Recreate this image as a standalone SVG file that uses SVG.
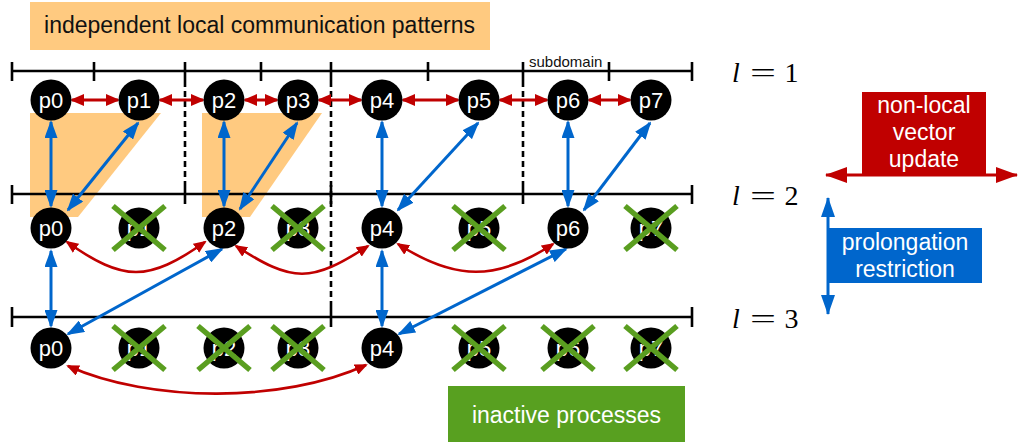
<svg xmlns="http://www.w3.org/2000/svg" width="1020" height="445" viewBox="0 0 1020 445">
<defs>
<style>
.lvl{stroke:#000;stroke-width:2.6;fill:none}
.dash{stroke:#000;stroke-width:2.6;stroke-dasharray:6 4;fill:none}
.nc{fill:#000}
.nt{font-family:"Liberation Sans",Arial,sans-serif;font-size:22px;fill:#fff;text-anchor:middle}
.x{stroke:#5A9E20;stroke-width:5.5;stroke-linecap:butt}
.red{stroke:#C00000;stroke-width:3;fill:none;marker-start:url(#rh);marker-end:url(#rh)}
.redc{stroke:#C00000;stroke-width:2.6;fill:none;marker-start:url(#rc);marker-end:url(#rc)}
.blue{stroke:#0066CC;stroke-width:3;fill:none;marker-start:url(#bh);marker-end:url(#bh)}
.lab{font-family:"Liberation Sans",Arial,sans-serif;font-size:23px;fill:#fff;text-anchor:middle}
.math{font-family:"Liberation Serif","Times New Roman",serif;font-size:28px;fill:#000}
</style>
<marker id="rh" markerUnits="userSpaceOnUse" viewBox="0 0 14 12" markerWidth="14" markerHeight="12" refX="12" refY="6" orient="auto-start-reverse"><path d="M0,0 L14,6 L0,12 z" fill="#C00000"/></marker>
<marker id="rc" markerUnits="userSpaceOnUse" viewBox="0 0 13 11" markerWidth="13" markerHeight="11" refX="11" refY="5.5" orient="auto-start-reverse"><path d="M0,0 L13,5.5 L0,11 z" fill="#C00000"/></marker>
<marker id="bh" markerUnits="userSpaceOnUse" viewBox="0 0 18 13" markerWidth="18" markerHeight="13" refX="16" refY="6.5" orient="auto-start-reverse"><path d="M0,0 L18,6.5 L0,13 z" fill="#0066CC"/></marker>
<marker id="rl" markerUnits="userSpaceOnUse" viewBox="0 0 22 16" markerWidth="22" markerHeight="16" refX="21" refY="8" orient="auto-start-reverse"><path d="M0,0 L22,8 L0,16 z" fill="#C00000"/></marker>
<marker id="bl" markerUnits="userSpaceOnUse" viewBox="0 0 20 14" markerWidth="20" markerHeight="14" refX="19" refY="7" orient="auto-start-reverse"><path d="M0,0 L20,7 L0,14 z" fill="#0066CC"/></marker>
</defs>
<rect width="1020" height="445" fill="#fff"/>

<!-- title -->
<g id="title">
<rect x="30" y="2" width="460" height="48" fill="#FFCA80"/>
<text x="259.5" y="33" font-family="'Liberation Sans',Arial,sans-serif" font-size="23" fill="#111" text-anchor="middle">independent local communication patterns</text>
</g>

<!-- local pattern areas -->
<g id="patterns" fill="#FFCA80">
<polygon points="30,113 161,113 78,217 30,217"/>
<polygon points="202,113 322,113 250,217 202,217"/>
</g>

<!-- levels -->
<g id="levels">
<line class="lvl" x1="12" y1="71" x2="692" y2="71"/>
<line class="lvl" x1="12" y1="194" x2="692" y2="194"/>
<line class="lvl" x1="12" y1="317" x2="692" y2="317"/>
<path class="lvl" d="M12,62V81 M94,62V81 M185,62V81 M261,62V81 M331,62V81 M428,62V81 M523,62V81 M609,62V81 M692,62V81"/>
<path class="lvl" d="M12,185V204 M185,185V204 M331,185V204 M523,185V204 M692,185V204"/>
<path class="lvl" d="M12,307V327 M331,307V327 M692,307V327"/>
<path class="dash" d="M185,81V185 M331,81V307 M523,81V185"/>
<text x="529" y="67" font-family="'Liberation Sans',Arial,sans-serif" font-size="15" fill="#111">subdomain</text>
</g>

<!-- connectors -->
<g id="connectors">
<line class="red" x1="72" y1="100" x2="118" y2="100"/>
<line class="red" x1="160" y1="100" x2="203" y2="100"/>
<line class="red" x1="245" y1="100" x2="277" y2="100"/>
<line class="red" x1="319" y1="100" x2="361" y2="100"/>
<line class="red" x1="403" y1="100" x2="458" y2="100"/>
<line class="red" x1="500" y1="100" x2="547" y2="100"/>
<line class="red" x1="589" y1="100" x2="630" y2="100"/>

<line class="blue" x1="51" y1="122" x2="51" y2="206"/>
<line class="blue" x1="224" y1="122" x2="224" y2="206"/>
<line class="blue" x1="382" y1="122" x2="382" y2="206"/>
<line class="blue" x1="568" y1="122" x2="568" y2="206"/>
<line class="blue" x1="138" y1="123" x2="68" y2="210"/>
<line class="blue" x1="297" y1="123" x2="240" y2="209"/>
<line class="blue" x1="478" y1="123" x2="398" y2="210"/>
<line class="blue" x1="650" y1="123" x2="584" y2="210"/>

<path class="redc" d="M67,242 C124,282 148,282 205,242"/>
<path class="redc" d="M236,246 C293,283 311,283 368,246"/>
<path class="redc" d="M398,244 C455,281 497,281 553,244"/>
<path class="redc" d="M68,366 C151,403 283,403 366,365"/>

<line class="blue" x1="51" y1="251" x2="51" y2="326"/>
<line class="blue" x1="382" y1="251" x2="382" y2="326"/>
<line class="blue" x1="222" y1="249" x2="68" y2="334"/>
<line class="blue" x1="566" y1="249" x2="399" y2="334"/>
</g>

<!-- nodes level 1 -->
<g id="l1p0"><circle class="nc" cx="51" cy="100" r="20.5"/><text class="nt" x="51" y="108">p0</text></g>
<g id="l1p1"><circle class="nc" cx="139" cy="100" r="20.5"/><text class="nt" x="139" y="108">p1</text></g>
<g id="l1p2"><circle class="nc" cx="224" cy="100" r="20.5"/><text class="nt" x="224" y="108">p2</text></g>
<g id="l1p3"><circle class="nc" cx="298" cy="100" r="20.5"/><text class="nt" x="298" y="108">p3</text></g>
<g id="l1p4"><circle class="nc" cx="382" cy="100" r="20.5"/><text class="nt" x="382" y="108">p4</text></g>
<g id="l1p5"><circle class="nc" cx="479" cy="100" r="20.5"/><text class="nt" x="479" y="108">p5</text></g>
<g id="l1p6"><circle class="nc" cx="568" cy="100" r="20.5"/><text class="nt" x="568" y="108">p6</text></g>
<g id="l1p7"><circle class="nc" cx="651" cy="100" r="20.5"/><text class="nt" x="651" y="108">p7</text></g>

<!-- nodes level 2 -->
<g id="l2p0"><circle class="nc" cx="51" cy="228" r="20.5"/><text class="nt" x="51" y="236">p0</text></g>
<g id="l2p1"><circle class="nc" cx="139" cy="228" r="20.5"/><text class="nt" x="139" y="236">p1</text><path class="x" d="M113,206 L165,250 M165,206 L113,250"/></g>
<g id="l2p2"><circle class="nc" cx="224" cy="228" r="20.5"/><text class="nt" x="224" y="236">p2</text></g>
<g id="l2p3"><circle class="nc" cx="298" cy="228" r="20.5"/><text class="nt" x="298" y="236">p3</text><path class="x" d="M272,206 L324,250 M324,206 L272,250"/></g>
<g id="l2p4"><circle class="nc" cx="382" cy="228" r="20.5"/><text class="nt" x="382" y="236">p4</text></g>
<g id="l2p5"><circle class="nc" cx="479" cy="228" r="20.5"/><text class="nt" x="479" y="236">p5</text><path class="x" d="M453,206 L505,250 M505,206 L453,250"/></g>
<g id="l2p6"><circle class="nc" cx="568" cy="228" r="20.5"/><text class="nt" x="568" y="236">p6</text></g>
<g id="l2p7"><circle class="nc" cx="651" cy="228" r="20.5"/><text class="nt" x="651" y="236">p7</text><path class="x" d="M625,206 L677,250 M677,206 L625,250"/></g>

<!-- nodes level 3 -->
<g id="l3p0"><circle class="nc" cx="51" cy="348" r="20.5"/><text class="nt" x="51" y="356">p0</text></g>
<g id="l3p1"><circle class="nc" cx="139" cy="348" r="20.5"/><text class="nt" x="139" y="356">p1</text><path class="x" d="M113,326 L165,370 M165,326 L113,370"/></g>
<g id="l3p2"><circle class="nc" cx="224" cy="348" r="20.5"/><text class="nt" x="224" y="356">p2</text><path class="x" d="M198,326 L250,370 M250,326 L198,370"/></g>
<g id="l3p3"><circle class="nc" cx="298" cy="348" r="20.5"/><text class="nt" x="298" y="356">p3</text><path class="x" d="M272,326 L324,370 M324,326 L272,370"/></g>
<g id="l3p4"><circle class="nc" cx="382" cy="348" r="20.5"/><text class="nt" x="382" y="356">p4</text></g>
<g id="l3p5"><circle class="nc" cx="479" cy="348" r="20.5"/><text class="nt" x="479" y="356">p5</text><path class="x" d="M453,326 L505,370 M505,326 L453,370"/></g>
<g id="l3p6"><circle class="nc" cx="568" cy="348" r="20.5"/><text class="nt" x="568" y="356">p6</text><path class="x" d="M542,326 L594,370 M594,326 L542,370"/></g>
<g id="l3p7"><circle class="nc" cx="651" cy="348" r="20.5"/><text class="nt" x="651" y="356">p7</text><path class="x" d="M625,326 L677,370 M677,326 L625,370"/></g>

<!-- level labels -->
<g id="levelLabels" class="math">
<text x="732" y="82" font-style="italic">l</text><text x="750" y="82" textLength="26" lengthAdjust="spacingAndGlyphs">=</text><text x="791.5" y="82" text-anchor="middle">1</text>
<text x="732" y="205" font-style="italic">l</text><text x="750" y="205" textLength="26" lengthAdjust="spacingAndGlyphs">=</text><text x="791.5" y="205" text-anchor="middle">2</text>
<text x="732" y="328" font-style="italic">l</text><text x="750" y="328" textLength="26" lengthAdjust="spacingAndGlyphs">=</text><text x="791.5" y="328" text-anchor="middle">3</text>
</g>

<!-- legend -->
<g id="legendRed">
<rect x="862" y="92" width="124" height="83" fill="#C00000"/>
<line x1="826" y1="175" x2="1017" y2="175" stroke="#C00000" stroke-width="3" marker-start="url(#rl)" marker-end="url(#rl)"/>
<text class="lab" x="924" y="113">non-local</text>
<text class="lab" x="924" y="140">vector</text>
<text class="lab" x="924" y="167">update</text>
</g>
<g id="legendBlue">
<rect x="828" y="228" width="154" height="55" fill="#0066CC"/>
<line x1="828" y1="198" x2="828" y2="314" stroke="#0066CC" stroke-width="3" marker-start="url(#bl)" marker-end="url(#bl)"/>
<text class="lab" x="905" y="250">prolongation</text>
<text class="lab" x="905" y="277">restriction</text>
</g>
<g id="legendGreen">
<rect x="448" y="386" width="237" height="56" fill="#58A020"/>
<text class="lab" x="566.5" y="423">inactive processes</text>
</g>
</svg>
